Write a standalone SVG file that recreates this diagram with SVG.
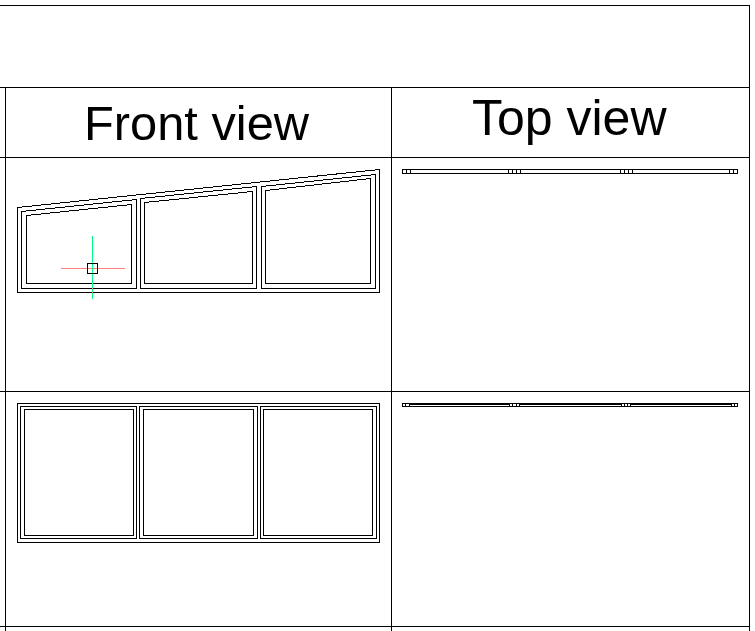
<svg xmlns="http://www.w3.org/2000/svg" width="755" height="631" viewBox="0 0 755 631">
<style>
.l{fill:none;stroke:#000;stroke-width:1;shape-rendering:crispEdges}
.c{fill:none;stroke-width:1;shape-rendering:crispEdges}
.t{font-family:"Liberation Sans",Arial,sans-serif;fill:#000}
</style>
<rect width="755" height="631" fill="#fff"/>
<g id="grid" class="l">
<path d="M0 5.500H749.500V631M0 87.500H749.500M0 157.500H749.500M0 391.500H749.500M0 626.500H749.500M5.500 87V631M391.500 87V631"/>
</g>
<g id="headers">
<text class="t" font-size="48.8" x="84" y="140">Front view</text>
<text class="t" font-size="50" x="472" y="135">Top view</text>
</g>
<g id="front-top" class="l">
<path d="M17.500 207.500L379.500 169.500V292.500H17.500Z"/>
<path d="M21.500 211.500L136.500 199.500V288.500H21.500Z"/>
<path d="M26.500 215.500L131.500 204.500V283.500H26.500Z"/>
<path d="M140.500 198.500L256.500 186.500V288.500H140.500Z"/>
<path d="M144.500 202.500L252.500 191.500V283.500H144.500Z"/>
<path d="M261.500 186.500L375.500 174.500V288.500H261.500Z"/>
<path d="M265.500 190.500L370.500 178.500V283.500H265.500Z"/>
</g>
<g id="cursor">
<path class="c" d="M61 268.500H125" stroke="#ff7f7f"/>
<path class="c" d="M92.500 236V299" stroke="#00ff7f"/>
<path class="c" d="M92 288.500H93M92 292.500H93" stroke="#ff7f7f"/>
<rect class="l" x="87.500" y="263.500" width="10" height="10"/>
</g>
<g id="front-bottom" class="l">
<rect x="17.500" y="403.500" width="362" height="139"/>
<rect x="20.500" y="406.500" width="116" height="132"/>
<rect x="24.500" y="409.500" width="109" height="126"/>
<rect x="139.500" y="406.500" width="118" height="132"/>
<rect x="143.500" y="409.500" width="110" height="126"/>
<rect x="260.500" y="406.500" width="116" height="132"/>
<rect x="263.500" y="409.500" width="109" height="126"/>
</g>
<g id="top-view-1" class="l">
<rect x="402.500" y="169.500" width="335" height="4"/>
<path d="M406.500 169V174M410.500 169V174M508.500 169V174M512.500 169V174M516.500 169V174M520.500 169V174M620.500 169V174M624.500 169V174M628.500 169V174M632.500 169V174M729.500 169V174M733.500 169V174"/>
</g>
<g id="top-view-2" class="l">
<rect x="402.500" y="403.500" width="335" height="3"/>
<path d="M405.500 403V407M409.500 403V407M509.500 403V407M512.500 403V407M516.500 403V407M519.500 403V407M621.500 403V407M624.500 403V407M627.500 403V407M630.500 403V407M731.500 403V407M734.500 403V407"/>
<path d="M410 404.500H509M520 404.500H621M631 404.500H731"/>
</g>
</svg>
